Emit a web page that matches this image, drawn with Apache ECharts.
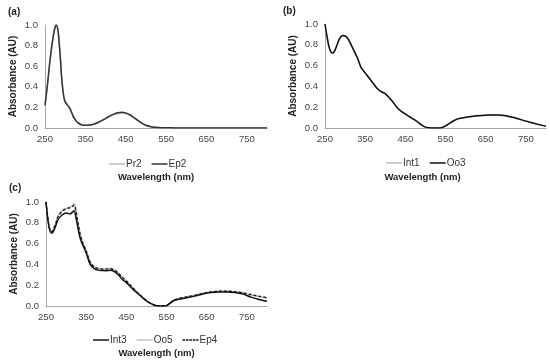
<!DOCTYPE html>
<html><head><meta charset="utf-8">
<script src="https://cdn.jsdelivr.net/npm/echarts@6/dist/echarts.min.js"></script>
<style>html,body{margin:0;padding:0;background:#fff}#c{width:550px;height:360px}</style>
</head><body><div id="c"></div>
<script>
// Panel (a)
const waveA = [250,255,260,265,270,275,278,282,285,288,291,295,299,305,310,315,320,325,330,340,350,360,370,380,390,400,410,420,430,440,450,460,470,480,490,500,510,520,540,570,600,650,700,750,800];
const ep2 = [0.22,0.38,0.57,0.74,0.88,0.98,1.0,0.95,0.83,0.68,0.50,0.34,0.26,0.225,0.20,0.16,0.11,0.08,0.055,0.032,0.026,0.029,0.037,0.051,0.071,0.094,0.116,0.135,0.148,0.153,0.147,0.13,0.104,0.074,0.047,0.027,0.015,0.008,0.003,0.001,0,0,0,0,0];
const pr2 = [0.22,0.38,0.57,0.74,0.88,0.98,1.0,0.95,0.84,0.70,0.52,0.36,0.27,0.232,0.207,0.168,0.116,0.083,0.057,0.033,0.026,0.028,0.035,0.048,0.067,0.089,0.109,0.127,0.139,0.144,0.139,0.123,0.099,0.071,0.045,0.026,0.015,0.008,0.003,0.001,0,0,0,0,0];
// Panel (b)
const waveB = [250,255,260,265,270,275,280,285,290,295,300,305,310,320,330,340,350,360,370,380,390,400,410,420,430,440,450,460,470,480,490,500,510,520,530,540,550,560,570,580,600,620,640,660,680,700,720,740,760,780,800];
const oo3 = [1.0,0.88,0.78,0.73,0.72,0.75,0.80,0.85,0.88,0.89,0.885,0.87,0.84,0.76,0.68,0.58,0.53,0.48,0.43,0.38,0.35,0.33,0.29,0.245,0.195,0.16,0.135,0.11,0.085,0.06,0.03,0.008,0.002,0,0,0.003,0.02,0.045,0.07,0.088,0.103,0.113,0.12,0.126,0.124,0.117,0.1,0.078,0.055,0.035,0.018];
const int1 = [1.0,0.88,0.78,0.73,0.72,0.75,0.80,0.85,0.88,0.888,0.883,0.868,0.838,0.758,0.678,0.578,0.528,0.478,0.428,0.378,0.348,0.328,0.288,0.243,0.193,0.158,0.133,0.108,0.083,0.058,0.029,0.008,0.002,0,0,0.003,0.019,0.044,0.069,0.087,0.102,0.112,0.119,0.125,0.123,0.116,0.099,0.077,0.054,0.034,0.017];
// Panel (c)
const waveC = [250,255,260,265,270,275,280,290,300,305,310,315,320,325,330,335,340,350,360,370,380,390,400,410,420,430,440,450,460,470,480,490,500,510,520,530,540,550,560,570,580,600,620,640,660,680,700,720,740,760,780,800];
const int3 = [1.0,0.82,0.72,0.70,0.73,0.78,0.83,0.875,0.895,0.89,0.885,0.90,0.915,0.84,0.74,0.65,0.6,0.51,0.40,0.36,0.345,0.342,0.34,0.343,0.33,0.3,0.255,0.225,0.185,0.148,0.115,0.08,0.05,0.025,0.008,0.001,0,0.003,0.03,0.055,0.065,0.08,0.095,0.115,0.13,0.135,0.135,0.13,0.115,0.085,0.063,0.045];
const oo5 = [1.0,0.84,0.74,0.72,0.76,0.81,0.87,0.92,0.94,0.945,0.95,0.965,0.99,0.91,0.8,0.7,0.63,0.535,0.425,0.38,0.362,0.358,0.36,0.362,0.35,0.32,0.28,0.243,0.202,0.162,0.122,0.086,0.053,0.026,0.009,0.002,0,0.004,0.035,0.06,0.072,0.09,0.104,0.122,0.137,0.143,0.143,0.138,0.126,0.105,0.09,0.075];
const ep4 = [1.0,0.83,0.73,0.715,0.75,0.80,0.86,0.91,0.935,0.94,0.945,0.955,0.97,0.9,0.79,0.69,0.62,0.53,0.42,0.375,0.36,0.355,0.355,0.358,0.345,0.315,0.275,0.24,0.2,0.16,0.12,0.085,0.052,0.026,0.009,0.002,0,0.004,0.035,0.06,0.072,0.088,0.102,0.12,0.135,0.142,0.142,0.138,0.128,0.11,0.095,0.08];
const yTicks = [0, 0.2, 0.4, 0.6, 0.8, 1.0];

const pair = (w, a) => w.map((x, i) => [x, a[i]]);
const FONT = 'Liberation Sans, Arial, sans-serif';
const grids = [
  {left: 45, top: 25, width: 222, height: 103},
  {left: 325, top: 24, width: 221, height: 104},
  {left: 46, top: 202, width: 221, height: 104}
];
const nameGaps = [44, 44, 42];
const namePads = [[0,0,0,0], [0,26,0,0], [0,0,0,0]];
const xAxes = grids.map((g, i) => ({
  type: 'value', gridIndex: i, min: 250, max: 800, interval: 50,
  name: 'Wavelength (nm)', nameLocation: 'middle', nameGap: nameGaps[i],
  nameTextStyle: {fontFamily: FONT, fontSize: 9.5, fontWeight: 'bold', color: '#222', padding: namePads[i]},
  axisLine: {lineStyle: {color: '#a6a6a6', width: 1}},
  axisTick: {show: false}, splitLine: {show: false},
  axisLabel: {fontFamily: FONT, fontSize: 9.5, color: '#444', margin: 6,
    formatter: v => ((v - 250) % 100 === 0 && v < 800) ? String(v) : ''}
}));
const yAxes = grids.map((g, i) => ({
  type: 'value', gridIndex: i, min: yTicks[0], max: yTicks[yTicks.length-1], interval: 0.2,
  name: 'Absorbance (AU)', nameLocation: 'middle', nameGap: 27,
  nameTextStyle: {fontFamily: FONT, fontSize: 10, fontWeight: 'bold', color: '#222'},
  axisLine: {show: true, lineStyle: {color: '#a6a6a6', width: 1}},
  axisTick: {show: false}, splitLine: {show: false},
  axisLabel: {fontFamily: FONT, fontSize: 9.5, color: '#444', margin: 7, formatter: v => v.toFixed(1)}
}));
const mk = (name, idx, data, color, width, z, dash) => ({
  name, type: 'line', xAxisIndex: idx, yAxisIndex: idx, data,
  smooth: 0.3, showSymbol: false, symbol: 'none', z,
  lineStyle: {color, width, type: dash || 'solid'}, itemStyle: {color},
  emphasis: {disabled: true}
});
const SOLID = 'path://M0,0h16v1.5h-16z';
const DASH = 'path://M0,0h2.6v1.5h-2.6zM3.4,0h2.6v1.5h-2.6zM6.8,0h2.6v1.5h-2.6zM10.2,0h2.6v1.5h-2.6zM13.6,0h2.4v1.5h-2.4z';
const legendBase = {itemWidth: 16, itemHeight: 1.5, itemGap: 10,
  textStyle: {fontFamily: FONT, fontSize: 10, color: '#333', padding: [0,0,0,-4]}};
const li = (name, icon) => ({name, icon: icon || SOLID});
const option = {
  animation: false,
  grid: grids,
  xAxis: xAxes,
  yAxis: yAxes,
  legend: [
    Object.assign({}, legendBase, {data: [li('Pr2'), li('Ep2')], left: 104, top: 154}),
    Object.assign({}, legendBase, {data: [li('Int1'), li('Oo3')], left: 381, top: 153}),
    Object.assign({}, legendBase, {data: [li('Int3'), li('Oo5'), li('Ep4', DASH)], left: 88, top: 330})
  ],
  title: [
    {text: '(a)', left: 3, top: 2, textStyle: {fontFamily: FONT, fontSize: 10, fontWeight: 'bold', color: '#222'}},
    {text: '(b)', left: 278, top: 1, textStyle: {fontFamily: FONT, fontSize: 10, fontWeight: 'bold', color: '#222'}},
    {text: '(c)', left: 4, top: 178, textStyle: {fontFamily: FONT, fontSize: 10, fontWeight: 'bold', color: '#222'}}
  ],
  series: [
    mk('Pr2', 0, pair(waveA, pr2), '#bdbdbd', 1.5, 2),
    mk('Ep2', 0, pair(waveA, ep2), '#333333', 1.5, 3),
    mk('Int1', 1, pair(waveB, int1), '#bdbdbd', 1.5, 2),
    mk('Oo3', 1, pair(waveB, oo3), '#111111', 1.5, 3),
    mk('Int3', 2, pair(waveC, int3), '#111111', 1.5, 3),
    mk('Oo5', 2, pair(waveC, oo5), '#c4c4c4', 1.5, 2),
    mk('Ep4', 2, pair(waveC, ep4), '#111111', 1.3, 4, [3, 2])
  ]
};
echarts.init(document.getElementById('c'), null, {renderer: 'canvas'}).setOption(option);
</script></body></html>
